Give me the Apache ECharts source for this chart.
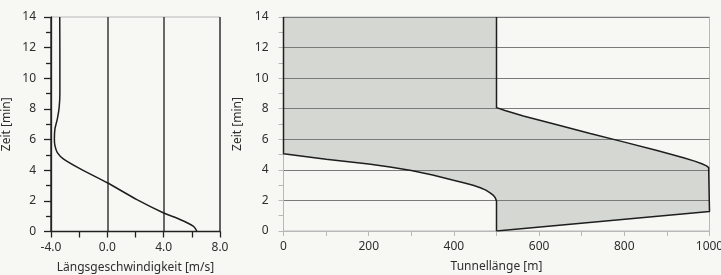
<!DOCTYPE html>
<html>
<head>
<meta charset="utf-8">
<script src="https://cdn.jsdelivr.net/npm/echarts@6/dist/echarts.min.js"></script>
<style>
html, body { margin: 0; padding: 0; background: #f7f7f3; }
#chart { width: 721px; height: 275px; }
</style>
</head>
<body>
<div id="chart"></div>
<script>
// left: longitudinal velocity over time  [speed m/s, time min]
var speedProfile = [
    [6.35, 0], [6.3, 0.12], [6.1, 0.35], [5.2, 0.77], [4.0, 1.21], [2.1, 2.08],
    [0.0, 3.18], [-1.95, 4.1], [-3.1, 4.72], [-3.55, 5.15], [-3.72, 5.6],
    [-3.76, 6.03], [-3.72, 6.7], [-3.55, 7.35], [-3.42, 8.1], [-3.37, 9.0],
    [-3.37, 11.5], [-3.38, 14]
];
// right: smoke fronts along the tunnel  [length m, time min]
var frontLeft = [
    [0, 14], [0, 5.05], [100, 4.7], [200, 4.38], [250, 4.19], [300, 3.96], [350, 3.67], [399, 3.32],
    [425, 3.14], [445, 2.99], [462, 2.83], [475, 2.67], [485, 2.5], [492, 2.35],
    [497, 2.18], [500, 1.97], [500, 0]
];
var frontRight = [
    [500, 14], [500, 8.07], [520, 7.88], [563, 7.52], [642, 6.95], [720, 6.38], [798, 5.83],
    [877, 5.26], [939, 4.79], [965, 4.57], [982, 4.4], [993, 4.26], [998, 4.15], [1000, 4.02],
    [1000, 1.28], [500, 0]
];
var speedTicks = [-4, 0, 4, 8];
var timeTicks = [0, 2, 4, 6, 8, 10, 12, 14];
var lengthTicks = [0, 200, 400, 600, 800, 1000];

var shadedArea = frontLeft.concat(frontRight.slice().reverse());

var txt = { color: '#2e2e2e', fontFamily: 'Noto Sans', fontSize: 12 };

var dom = document.getElementById('chart');
var myChart = echarts.init(dom);
var option = {
    backgroundColor: '#f7f7f3',
    animation: false,
    grid: [
        { left: 51, right: 501, top: 17, bottom: 43.5, outerBoundsMode: 'none',
          show: true, borderColor: '#b8b8b8', borderWidth: 1 },
        { left: 283.5, right: 11.5, top: 17, bottom: 44, outerBoundsMode: 'none',
          show: true, borderColor: '#b8b8b8', borderWidth: 1 }
    ],
    xAxis: [
        {
            gridIndex: 0, type: 'value',
            min: speedTicks[0], max: speedTicks[speedTicks.length - 1],
            interval: speedTicks[1] - speedTicks[0],
            name: 'Längsgeschwindigkeit [m/s]', nameLocation: 'middle', nameGap: 30,
            nameTextStyle: txt,
            axisLine: { onZero: false, lineStyle: { color: '#222', width: 1.3 } },
            axisTick: { length: 6, lineStyle: { color: '#222', width: 1.3 } },
            minorTick: { show: true, splitNumber: 2, length: 6, lineStyle: { color: '#222', width: 1.3 } },
            axisLabel: Object.assign({ margin: 10, formatter: function (v) { return v.toFixed(1); } }, txt),
            splitLine: { show: true, lineStyle: { color: '#444', width: 1.6 } }
        },
        {
            gridIndex: 1, type: 'value',
            min: lengthTicks[0], max: lengthTicks[lengthTicks.length - 1],
            interval: lengthTicks[1] - lengthTicks[0],
            name: 'Tunnellänge [m]', nameLocation: 'middle', nameGap: 30,
            nameTextStyle: txt,
            axisLine: { onZero: false, lineStyle: { color: '#b8b8b8' } },
            axisTick: { length: 5, lineStyle: { color: '#b8b8b8' } },
            minorTick: { show: true, splitNumber: 2, length: 5, lineStyle: { color: '#b8b8b8' } },
            axisLabel: Object.assign({ margin: 10, formatter: function (v) { return String(v); } }, txt),
            splitLine: { show: false }
        }
    ],
    yAxis: [
        {
            gridIndex: 0, type: 'value',
            min: timeTicks[0], max: timeTicks[timeTicks.length - 1],
            interval: timeTicks[1] - timeTicks[0],
            name: 'Zeit [min]', nameLocation: 'middle', nameGap: 38,
            nameTextStyle: txt,
            axisLine: { onZero: false, lineStyle: { color: '#222', width: 1.3 } },
            axisTick: { length: 7, lineStyle: { color: '#222', width: 1.3 } },
            minorTick: { show: true, splitNumber: 2, length: 5, lineStyle: { color: '#222', width: 1.3 } },
            axisLabel: Object.assign({ margin: 15 }, txt),
            splitLine: { show: false }
        },
        {
            gridIndex: 1, type: 'value', z: 3,
            min: timeTicks[0], max: timeTicks[timeTicks.length - 1],
            interval: timeTicks[1] - timeTicks[0],
            name: 'Zeit [min]', nameLocation: 'middle', nameGap: 32,
            nameTextStyle: txt,
            axisLine: { onZero: false, lineStyle: { color: '#b8b8b8' } },
            axisTick: { length: 5, lineStyle: { color: '#b8b8b8' } },
            minorTick: { show: true, splitNumber: 2, length: 5, lineStyle: { color: '#b8b8b8' } },
            axisLabel: Object.assign({ margin: 15 }, txt),
            splitLine: { show: true, showMinLine: false, lineStyle: { color: '#7a7a7a', width: 1 } }
        }
    ],
    series: [
        {
            type: 'line', xAxisIndex: 0, yAxisIndex: 0, z: 4,
            data: speedProfile, showSymbol: false, smooth: 0.2,
            lineStyle: { color: '#1e1e1e', width: 1.5 }
        },
        {
            type: 'custom', xAxisIndex: 1, yAxisIndex: 1, z: 1,
            data: shadedArea,
            renderItem: function (params, api) {
                if (params.dataIndex !== 0) return;
                var pts = shadedArea.map(function (p) { return api.coord(p); });
                return { type: 'polygon', shape: { points: pts }, style: { fill: '#d5d7d3' } };
            }
        },
        {
            type: 'line', xAxisIndex: 1, yAxisIndex: 1, z: 4,
            data: frontLeft, showSymbol: false,
            lineStyle: { color: '#1e1e1e', width: 1.5 }
        },
        {
            type: 'line', xAxisIndex: 1, yAxisIndex: 1, z: 4,
            data: frontRight, showSymbol: false,
            lineStyle: { color: '#1e1e1e', width: 1.5 }
        }
    ]
};
myChart.setOption(option);
</script>
</body>
</html>
